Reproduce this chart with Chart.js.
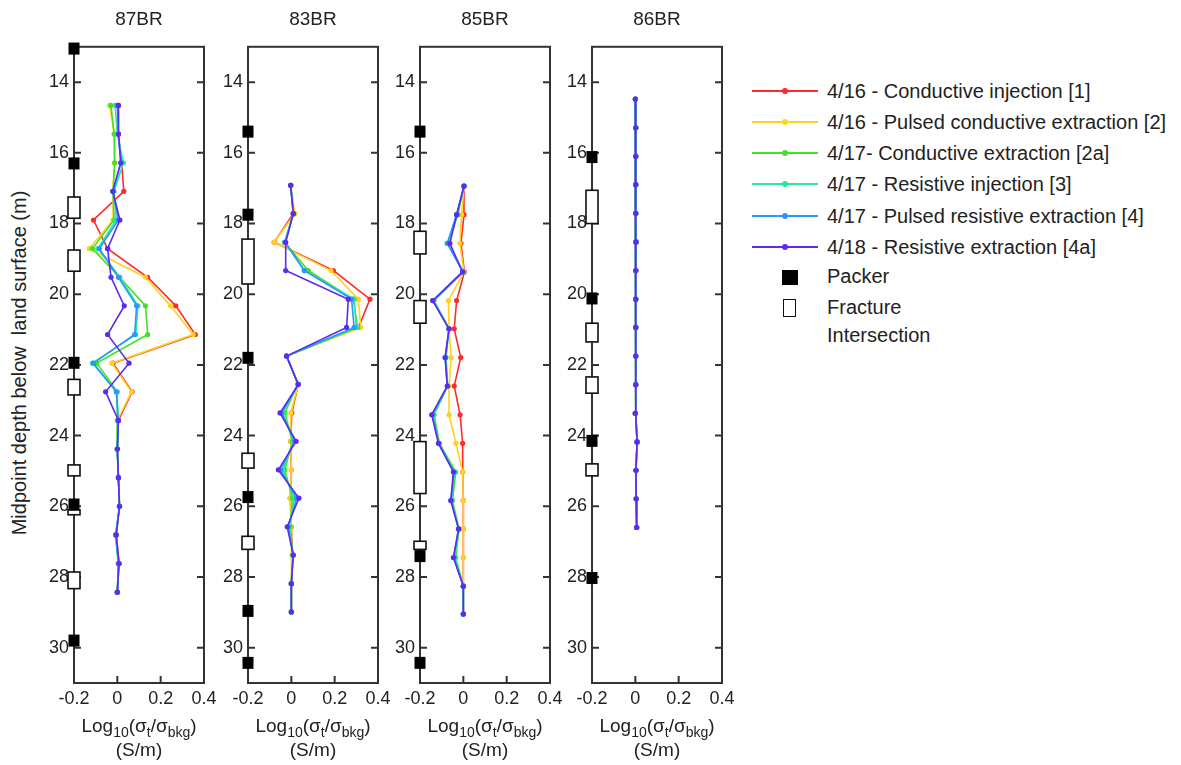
<!DOCTYPE html>
<html>
<head>
<meta charset="utf-8">
<script src="https://cdn.jsdelivr.net/npm/chart.js@4.4.1/dist/chart.umd.min.js"></script>
<style>
  body { margin: 0; background: #fff; }
  #wrap { position: relative; width: 1181px; height: 765px; font-family: 'Liberation Sans', Arial, sans-serif; color: #222; }
  .panel { position: absolute; top: 0; }
  .xlab { position: absolute; top: 714px; width: 130px; text-align: center; font-size: 19px; line-height: 24px; }
  .xlab sub { font-size: 14px; vertical-align: -5px; line-height: 0; }
  .ylab { position: absolute; left: 19px; top: 363px; transform: translate(-50%, -50%) rotate(-90deg); font-size: 20px; white-space: pre; }
  .legend { position: absolute; left: 750px; top: 0; font-size: 20px; }
  .row { position: absolute; left: 0; height: 24px; white-space: nowrap; }
  .row .ln { position: absolute; left: 2px; top: 11px; width: 66px; height: 2px; }
  .row .dot { position: absolute; left: 32px; top: 9px; width: 6px; height: 6px; border-radius: 3px; }
  .row .tx { position: absolute; left: 77px; top: 0; line-height: 24px; }
</style>
</head>
<body>
<div id="wrap">
  <div class="ylab">Midpoint depth below  land surface (m)</div>
  <div class="legend" id="legend"></div>
</div>
<script>
// series (same order in every well)
const seriesLabels = [
  '4/16 - Conductive injection [1]',
  '4/16 - Pulsed conductive extraction [2]',
  '4/17- Conductive extraction [2a]',
  '4/17 - Resistive injection [3]',
  '4/17 - Pulsed resistive extraction [4]',
  '4/18 - Resistive extraction [4a]'
];
const seriesColors = ['#ff2a2a', '#ffd21f', '#44e02a', '#26e89a', '#2a96ff', '#5b2bf2'];

const wellNames = ['87BR', '83BR', '85BR', '86BR'];
const yTicks = [14, 16, 18, 20, 22, 24, 26, 28, 30];
const xTicks = [-0.2, 0, 0.2, 0.4];

// 87BR
const depth87BR = [14.66, 15.47, 16.28, 17.09, 17.90, 18.71, 19.52, 20.33, 21.14, 21.95, 22.76, 23.57, 24.38, 25.19, 26.00, 26.81, 27.62, 28.43];
const values87BR = [
  [0.005, 0.005, 0.02, 0.03, -0.11, -0.045, 0.14, 0.27, 0.36, -0.02, 0.068, 0.005, 0.0, 0.005, 0.01, -0.005, 0.008, 0.0],
  [-0.035, -0.015, -0.014, -0.02, -0.02, -0.13, 0.13, 0.245, 0.35, -0.025, 0.065, 0.0, 0.0, 0.005, 0.01, -0.005, 0.005, 0.0],
  [-0.03, -0.014, -0.012, -0.02, -0.015, -0.115, 0.01, 0.13, 0.14, -0.095, 0.0, 0.0, 0.0, 0.005, 0.01, -0.008, 0.005, 0.0],
  [-0.01, 0.0, 0.028, -0.015, -0.005, -0.09, 0.012, 0.095, 0.085, -0.115, -0.003, 0.003, 0.0, 0.005, 0.01, -0.008, 0.005, 0.0],
  [0.0, 0.005, 0.016, -0.02, 0.005, -0.083, 0.005, 0.089, 0.08, -0.11, -0.005, 0.005, 0.0, 0.005, 0.01, -0.007, 0.005, 0.0],
  [0.005, 0.005, 0.016, -0.021, 0.012, -0.045, -0.029, 0.032, -0.045, 0.054, -0.054, 0.005, 0.0, 0.005, 0.01, -0.005, 0.008, 0.0]
];
const packers87BR = [13.05, 16.3, 21.94, 25.95, 29.8];
const fractures87BR = [[17.25, 17.85], [18.75, 19.35], [22.41, 22.85], [24.83, 25.14], [26.1, 26.24], [27.86, 28.33]];

// 83BR
const depth83BR = [16.92, 17.72, 18.53, 19.33, 20.14, 20.94, 21.75, 22.55, 23.36, 24.16, 24.97, 25.77, 26.58, 27.38, 28.19, 28.99];
const values83BR = [
  [-0.003, 0.009, -0.079, 0.194, 0.363, 0.31, -0.022, 0.032, 0.002, -0.003, 0.0, -0.005, 0.0, 0.005, 0.0, 0.0],
  [-0.003, 0.017, -0.08, 0.183, 0.309, 0.321, -0.022, 0.032, -0.002, -0.003, 0.0, -0.005, 0.0, 0.003, 0.0, 0.0],
  [-0.003, 0.01, -0.032, 0.078, 0.286, 0.306, -0.022, 0.03, -0.03, 0.005, -0.03, 0.005, -0.005, 0.007, 0.0, 0.0],
  [-0.003, 0.009, -0.03, 0.06, 0.29, 0.3, -0.022, 0.032, -0.04, 0.01, -0.04, 0.015, -0.01, 0.008, 0.0, 0.0],
  [-0.003, 0.009, -0.028, 0.06, 0.278, 0.29, -0.022, 0.032, -0.045, 0.015, -0.05, 0.025, -0.015, 0.009, 0.0, 0.0],
  [-0.003, 0.009, -0.026, -0.026, 0.263, 0.255, -0.022, 0.032, -0.052, 0.022, -0.06, 0.035, -0.019, 0.009, 0.0, 0.0]
];
const packers83BR = [15.4, 17.75, 21.8, 25.74, 28.96, 30.43];
const fractures83BR = [[18.44, 19.71], [24.5, 24.92], [26.85, 27.22]];

// 85BR
const depth85BR = [16.94, 17.75, 18.56, 19.37, 20.18, 20.98, 21.79, 22.60, 23.41, 24.22, 25.03, 25.84, 26.64, 27.45, 28.26, 29.05];
const values85BR = [
  [0.003, 0.003, -0.011, 0.005, -0.031, -0.042, -0.012, -0.042, -0.015, -0.003, -0.003, 0.0, 0.0, 0.0, 0.0, 0.0],
  [0.003, -0.008, -0.016, 0.003, -0.069, -0.066, -0.056, -0.066, -0.066, -0.034, -0.003, 0.0, 0.0, 0.0, 0.0, 0.0],
  [0.003, -0.025, -0.07, 0.0, -0.135, -0.066, -0.08, -0.072, -0.135, -0.11, -0.035, -0.05, -0.02, -0.035, 0.0, 0.0],
  [0.003, -0.03, -0.074, 0.0, -0.138, -0.066, -0.082, -0.073, -0.14, -0.112, -0.04, -0.055, -0.021, -0.04, 0.0, 0.0],
  [0.003, -0.031, -0.074, -0.002, -0.141, -0.066, -0.084, -0.074, -0.143, -0.114, -0.043, -0.057, -0.022, -0.044, 0.0, 0.0],
  [0.003, -0.031, -0.062, -0.004, -0.141, -0.066, -0.084, -0.074, -0.146, -0.115, -0.046, -0.058, -0.022, -0.046, 0.0, 0.0]
];
const packers85BR = [15.4, 27.41, 30.43];
const fractures85BR = [[18.22, 18.86], [20.18, 20.82], [24.17, 25.64], [26.99, 27.22]];

// 86BR
const depth86BR = [14.48, 15.29, 16.10, 16.90, 17.71, 18.52, 19.33, 20.14, 20.94, 21.75, 22.56, 23.37, 24.18, 24.98, 25.79, 26.60];
const values86BR = [
  [0.0, 0.002, 0.002, 0.002, 0.002, 0.003, 0.002, 0.002, 0.002, 0.002, 0.002, 0.0, 0.008, 0.003, 0.004, 0.006],
  [0.0, 0.002, 0.002, 0.002, 0.002, 0.003, 0.002, 0.002, 0.002, 0.002, 0.002, 0.0, 0.008, 0.003, 0.004, 0.006],
  [0.0, 0.002, 0.002, 0.002, 0.002, 0.003, 0.002, 0.002, 0.002, 0.002, 0.002, 0.0, 0.008, 0.003, 0.004, 0.007],
  [0.0, 0.002, 0.002, 0.002, 0.002, 0.003, 0.002, 0.002, 0.002, 0.002, 0.002, 0.0, 0.008, 0.003, 0.004, 0.006],
  [0.0, 0.002, 0.002, 0.002, 0.002, 0.003, 0.002, 0.002, 0.002, 0.002, 0.002, 0.0, 0.008, 0.003, 0.004, 0.006],
  [0.0, 0.002, 0.002, 0.002, 0.002, 0.003, 0.002, 0.002, 0.002, 0.002, 0.002, 0.0, 0.008, 0.003, 0.004, 0.006]
];
const packers86BR = [16.12, 20.12, 24.15, 28.03];
const fractures86BR = [[17.06, 18.0], [20.82, 21.35], [22.34, 22.8], [24.8, 25.14]];

const depths = [depth87BR, depth83BR, depth85BR, depth86BR];
const values = [values87BR, values83BR, values85BR, values86BR];
const packers = [packers87BR, packers83BR, packers85BR, packers86BR];
const fractures = [fractures87BR, fractures83BR, fractures85BR, fractures86BR];

const panelLeft = [74, 248, 420, 592];
const font = "'Liberation Sans', Arial, sans-serif";

// box, inward ticks, packers and fracture marks on the left axis
const wellMarks = {
  id: 'wellMarks',
  afterDatasetsDraw(chart, args, opts) {
    const ctx = chart.ctx;
    const a = chart.chartArea;
    const x = chart.scales.x, y = chart.scales.y;
    ctx.save();
    ctx.strokeStyle = '#333';
    ctx.lineWidth = 2;
    ctx.strokeRect(a.left, a.top, a.right - a.left, a.bottom - a.top);
    ctx.beginPath();
    y.ticks.forEach(t => {
      const py = y.getPixelForValue(t.value);
      ctx.moveTo(a.left, py); ctx.lineTo(a.left + 7, py);
      ctx.moveTo(a.right, py); ctx.lineTo(a.right - 7, py);
    });
    x.ticks.forEach(t => {
      const px = x.getPixelForValue(t.value);
      if (px > a.left + 2 && px < a.right - 2) {
        ctx.moveTo(px, a.bottom); ctx.lineTo(px, a.bottom - 7);
      }
    });
    ctx.stroke();

    const px0 = x.getPixelForValue(x.min);
    opts.fractures.forEach(f => {
      const y0 = y.getPixelForValue(f[0]);
      const y1 = y.getPixelForValue(f[1]);
      ctx.fillStyle = '#fff';
      ctx.fillRect(px0 - 6, y0, 12, y1 - y0);
      ctx.lineWidth = 1.6;
      ctx.strokeStyle = '#111';
      ctx.strokeRect(px0 - 6, y0, 12, y1 - y0);
    });
    ctx.fillStyle = '#000';
    opts.packers.forEach(d => {
      const py = y.getPixelForValue(d);
      ctx.fillRect(px0 - 5.5, py - 6, 11, 12);
    });
    ctx.restore();
  }
};

const wrap = document.getElementById('wrap');

wellNames.forEach((name, w) => {
  const box = document.createElement('div');
  box.className = 'panel';
  box.style.left = (panelLeft[w] - 50) + 'px';
  const canvas = document.createElement('canvas');
  canvas.width = 200;
  canvas.height = 715;
  box.appendChild(canvas);
  wrap.appendChild(box);

  const lab = document.createElement('div');
  lab.className = 'xlab';
  lab.style.left = panelLeft[w] + 'px';
  lab.innerHTML = 'Log<sub>10</sub>(σ<sub>t</sub>/σ<sub>bkg</sub>)<br>(S/m)';
  wrap.appendChild(lab);

  const datasets = seriesLabels.map((label, s) => ({
    label: label,
    data: depths[w].map((d, i) => ({ x: values[w][s][i], y: d })),
    showLine: true,
    borderColor: seriesColors[s],
    backgroundColor: seriesColors[s],
    borderWidth: 1.6,
    pointRadius: 2.6,
    pointBorderWidth: 0,
    order: seriesLabels.length - s
  }));

  new Chart(canvas, {
    type: 'scatter',
    data: { datasets: datasets },
    plugins: [wellMarks],
    options: {
      responsive: false,
      animation: false,
      layout: { padding: { left: 0, right: 20, top: 0, bottom: 0 } },
      scales: {
        x: {
          type: 'linear',
          min: -0.2,
          max: 0.4,
          afterBuildTicks: s => { s.ticks = xTicks.map(v => ({ value: v })); },
          afterFit: s => { s.height = 32; },
          grid: { display: false, drawTicks: false },
          border: { display: false },
          ticks: { font: { family: font, size: 18 }, color: '#222', padding: 5, maxRotation: 0 }
        },
        y: {
          type: 'linear',
          reverse: true,
          min: 13,
          max: 31,
          afterBuildTicks: s => { s.ticks = yTicks.map(v => ({ value: v })); },
          afterFit: s => { s.width = 50; },
          grid: { display: false, drawTicks: false },
          border: { display: false },
          ticks: { font: { family: font, size: 18 }, color: '#222', padding: 5 }
        }
      },
      plugins: {
        legend: { display: false },
        tooltip: { enabled: false },
        title: {
          display: true,
          text: name,
          fullSize: false,
          color: '#222',
          font: { family: font, size: 19, weight: 'normal', lineHeight: 1.2 },
          padding: { top: 8, bottom: 16 }
        },
        wellMarks: { packers: packers[w], fractures: fractures[w] }
      }
    }
  });
});

// legend
const legend = document.getElementById('legend');
const rowY = [79, 110, 141, 172, 204, 235];
seriesLabels.forEach((label, s) => {
  const r = document.createElement('div');
  r.className = 'row';
  r.style.top = rowY[s] + 'px';
  r.innerHTML = '<div class="ln" style="background:' + seriesColors[s] + '"></div>' +
    '<div class="dot" style="background:' + seriesColors[s] + '"></div>' +
    '<div class="tx">' + label + '</div>';
  legend.appendChild(r);
});
const extra = document.createElement('div');
extra.innerHTML =
  '<div style="position:absolute;left:32px;top:270px;width:16px;height:15px;background:#000"></div>' +
  '<div class="row" style="top:264px"><div class="tx">Packer</div></div>' +
  '<div style="position:absolute;left:33px;top:299px;width:11px;height:16px;border:1.6px solid #111;background:#fff"></div>' +
  '<div class="row" style="top:295px"><div class="tx">Fracture</div></div>' +
  '<div class="row" style="top:323px"><div class="tx">Intersection</div></div>';
legend.appendChild(extra);
</script>
</body>
</html>
